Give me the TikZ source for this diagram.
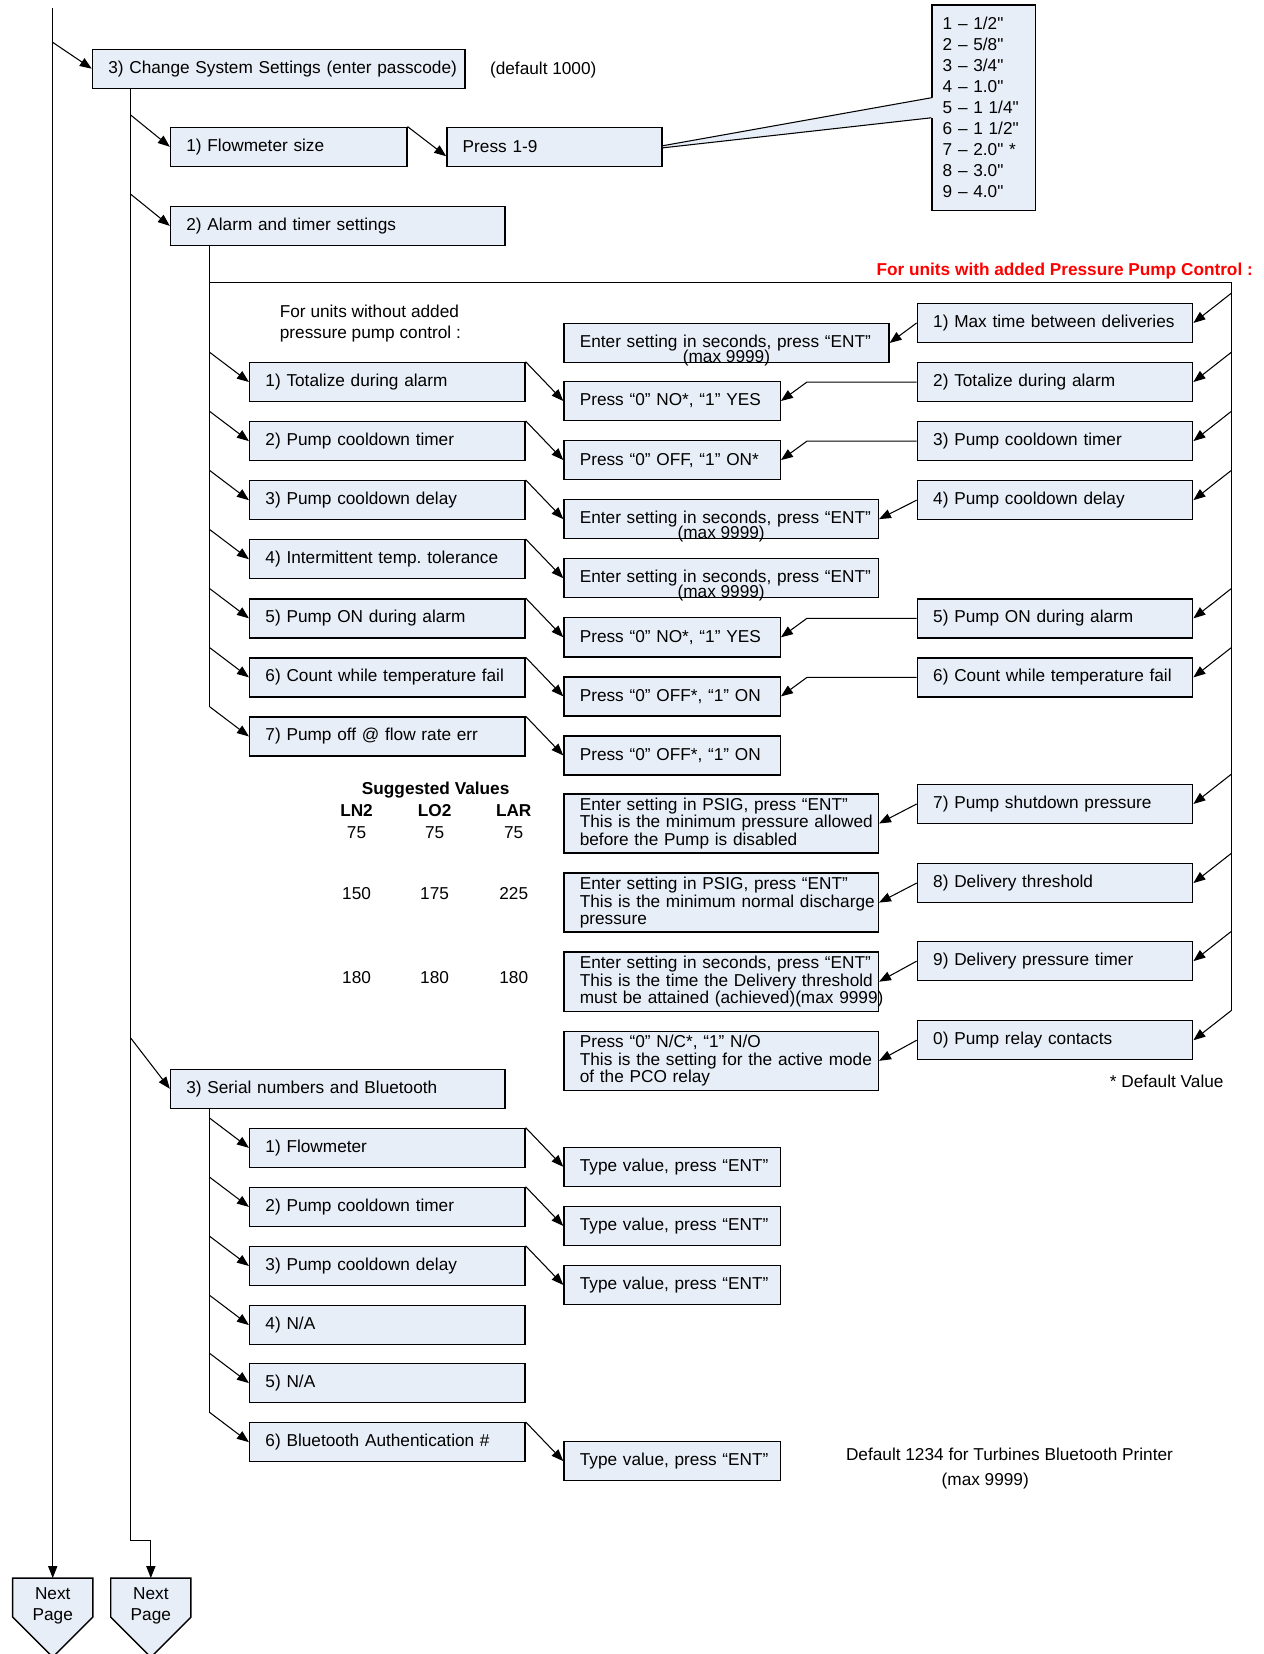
\documentclass[tikz,border=0pt]{standalone}
\usepackage{fontspec}
\setmainfont{Liberation Sans}
\newfontfamily\inchfont{Liberation Sans}
\usepackage{tikz}
\usetikzlibrary{arrows.meta,calc}
\definecolor{boxfill}{HTML}{E8EEF7}
\definecolor{warnred}{HTML}{FF0000}
\tikzset{
  box/.style={draw=black, fill=boxfill, line width=0.8pt, anchor=north west,
    minimum height=22.2pt, inner xsep=0pt, inner ysep=0pt,
    /utils/exec={\pgfmathsetlengthmacro\boxwd{#1*0.6pt}},
    text width=\boxwd, align=left, execute at begin node={\leftskip=9pt}},
  tall/.style={minimum height=33.6pt, font=\fontsize{9.8}{9.9}\selectfont},
  sizelist/.style={minimum height=117pt, execute at begin node={\leftskip=6pt},
    font=\inchfont\fontsize{9.8}{11.94}\selectfont},
  maxnote/.style={anchor=center, inner sep=0pt, yshift=3pt},
  note/.style={inner sep=0pt},
  hdr/.style={note, font=\fontsize{9.8}{12}\selectfont\bfseries},
  link/.style={line width=0.6pt},
  arr/.style={link, -{Triangle[length=6.8pt,width=5.2pt]}},
  npage/.style={draw=black, fill=boxfill, line width=0.8pt},
  every node/.style={font=\fontsize{9.8}{12}\selectfont}
}

\begin{document}
\begin{tikzpicture}[x=0.6pt, y=-0.6pt]
  \useasboundingbox (0,0) rectangle (1198,1568);

  % trunk points
  \coordinate (topL) at (50,8);
  \coordinate (trA) at (124,83);
  \coordinate (trB) at (199,232);
  \coordinate (trC) at (1167,268);
  \coordinate (trD) at (199,1050);
  \coordinate (np1top) at (50,1496);
  \coordinate (np2top) at (143,1496);

  % change system settings
  \node[box=353] (b3) at (87,46) {3) Change System Settings (enter passcode)};
  \node[note] (dflt) at (515,66) {(default 1000)};
  \node[box=224] (fm) at (161,120) {1) Flowmeter size};
  \node[box=204] (press) at (423,120) {Press 1-9};
  \node[box=98, sizelist] (sizes) at (883,4) {1 – 1/2"\\2 – 5/8"\\3 – 3/4"\\4 – 1.0"\\5 – 1 1/4"\\6 – 1 1/2"\\7 – 2.0" *\\8 – 3.0"\\9 – 4.0"};
  \node[box=317] (a2) at (161,195) {2) Alarm and timer settings};

  % callout
  \fill[boxfill] ($(press.east)+(0,-1)$) -- ($(sizes.west)+(1.5,-9.5)$) -- ($(sizes.west)+(1.5,9.5)$) -- ($(press.east)+(0,1)$) -- cycle;
  \draw[link] ($(press.east)+(0,-1)$) -- ($(sizes.west)+(0,-9.5)$);
  \draw[link] ($(press.east)+(0,1)$) -- ($(sizes.west)+(0,9.5)$);

  % without / with pressure pump control
  \node[hdr, text=warnred, anchor=east] (withpcp) at (1188,257) {For units with added Pressure Pump Control :};
  \node[note, align=left, anchor=west] (nopcp) at (265,307) {For units without added\\pressure pump control :};

  \node[box=261] (t1) at (236,343) {1) Totalize during alarm};
  \node[box=261] (t2) at (236,399) {2) Pump cooldown timer};
  \node[box=261] (t3) at (236,455) {3) Pump cooldown delay};
  \node[box=261] (t4) at (236,511) {4) Intermittent temp.\ tolerance};
  \node[box=261] (t5) at (236,567) {5) Pump ON during alarm};
  \node[box=261] (t6) at (236,623) {6) Count while temperature fail};
  \node[box=261] (t7) at (236,679) {7) Pump off @ flow rate err};

  \node[box=308, label={[maxnote]south:(max 9999)}] (m0) at (534,306) {Enter setting in seconds, press “ENT”};
  \node[box=205] (m1) at (534,361) {Press “0” NO*, “1” YES};
  \node[box=205] (m2) at (534,417) {Press “0” OFF, “1” ON*};
  \node[box=298, label={[maxnote]south:(max 9999)}] (m3) at (534,473) {Enter setting in seconds, press “ENT”};
  \node[box=298, label={[maxnote]south:(max 9999)}] (m4) at (534,529) {Enter setting in seconds, press “ENT”};
  \node[box=205] (m5) at (534,585) {Press “0” NO*, “1” YES};
  \node[box=205] (m6) at (534,641) {Press “0” OFF*, “1” ON};
  \node[box=205] (m7) at (534,697) {Press “0” OFF*, “1” ON};

  \node[box=261] (r1) at (869,287) {1) Max time between deliveries};
  \node[box=261] (r2) at (869,343) {2) Totalize during alarm};
  \node[box=261] (r3) at (869,399) {3) Pump cooldown timer};
  \node[box=261] (r4) at (869,455) {4) Pump cooldown delay};
  \node[box=261] (r5) at (869,567) {5) Pump ON during alarm};
  \node[box=261] (r6) at (869,623) {6) Count while temperature fail};
  \node[box=261] (r7) at (869,743) {7) Pump shutdown pressure};
  \node[box=261] (r8) at (869,818) {8) Delivery threshold};
  \node[box=261] (r9) at (869,892) {9) Delivery pressure timer};
  \node[box=261] (r0) at (869,967) {0) Pump relay contacts};

  \node[box=298, tall] (p7) at (534,752) {\mbox{Enter setting in PSIG, press “ENT”}\\\mbox{This is the minimum pressure allowed}\\\mbox{before the Pump is disabled}};
  \node[box=298, tall] (p8) at (534,827) {\mbox{Enter setting in PSIG, press “ENT”}\\\mbox{This is the minimum normal discharge}\\\mbox{pressure}};
  \node[box=298, tall] (p9) at (534,902) {\mbox{Enter setting in seconds, press “ENT”}\\\mbox{This is the time the Delivery threshold}\\\mbox{must be attained (achieved)(max 9999)}};
  \node[box=298, tall] (p0) at (534,977) {\mbox{Press “0” N/C*, “1” N/O}\\\mbox{This is the setting for the active mode}\\\mbox{of the PCO relay}};

  % suggested values
  \node[hdr] (sugg) at (413,749) {Suggested Values};
  \node[hdr] (hln) at (338,768) {LN2};
  \node[hdr] (hlo) at (412,768) {LO2};
  \node[hdr] (hla) at (487,768) {LAR};
  \node[note] (v71) at (338,789) {75};
  \node[note] (v72) at (412,789) {75};
  \node[note] (v73) at (487,789) {75};
  \node[note] (v81) at (338,847) {150};
  \node[note] (v82) at (412,847) {175};
  \node[note] (v83) at (487,847) {225};
  \node[note] (v91) at (338,927) {180};
  \node[note] (v92) at (412,927) {180};
  \node[note] (v93) at (487,927) {180};
  \node[note] (dflv) at (1106,1025) {* Default Value};

  % serial numbers
  \node[box=317] (s3) at (161,1013) {3) Serial numbers and Bluetooth};
  \node[box=261] (u1) at (236,1069) {1) Flowmeter};
  \node[box=261] (u2) at (236,1125) {2) Pump cooldown timer};
  \node[box=261] (u3) at (236,1181) {3) Pump cooldown delay};
  \node[box=261] (u4) at (236,1237) {4) N/A};
  \node[box=261] (u5) at (236,1292) {5) N/A};
  \node[box=261] (u6) at (236,1348) {6) Bluetooth Authentication \#};
  \node[box=205] (tv1) at (534,1087) {Type value, press “ENT”};
  \node[box=205] (tv2) at (534,1143) {Type value, press “ENT”};
  \node[box=205] (tv3) at (534,1199) {Type value, press “ENT”};
  \node[box=205] (tv6) at (534,1366) {Type value, press “ENT”};
  \node[note] (prn1) at (957,1379) {Default 1234 for Turbines Bluetooth Printer};
  \node[note] (prn2) at (934,1404) {(max 9999)};

  % next page
  \draw[npage] (np1top) ++(-38,0) -- ++(76,0) -- ++(0,37) -- ++(-38,38) -- ++(-38,-38) -- cycle;
  \draw[npage] (np2top) ++(-38,0) -- ++(76,0) -- ++(0,37) -- ++(-38,38) -- ++(-38,-38) -- cycle;
  \node[note, align=center] (np1) at (50,1522) {Next\\Page};
  \node[note, align=center] (np2) at (143,1522) {Next\\Page};

  % trunks
  \draw[arr] (topL) -- (np1top);
  \draw[arr] (trA) |- ($(np2top)+(0,-36)$) -- (np2top);
  \draw[link] (trB) -- ($(t7.west -| trB)+(0,-28)$);
  \draw[link] (trC -| trB) -- (trC) -- ($(r0.east -| trC)+(0,-28)$);
  \draw[link] (trD) -- ($(u6.west -| trD)+(0,-28)$);

  \draw[arr] ($(b3.west -| topL)+(0,-25)$) -- (b3.west);
  \draw[arr] ($(fm.west -| trA)+(0,-30)$) -- (fm.west);
  \draw[arr] ($(a2.west -| trA)+(0,-30)$) -- (a2.west);
  \draw[arr] ($(s3.west -| trA)+(0,-48)$) -- (s3.west);
  \draw[arr] (fm.north east) -- ($(press.west)+(0,9)$);

  % left column
  \draw[arr] ($(t1.west -| trB)+(0,-28)$) -- (t1.west);
  \draw[arr] ($(t2.west -| trB)+(0,-28)$) -- (t2.west);
  \draw[arr] ($(t3.west -| trB)+(0,-28)$) -- (t3.west);
  \draw[arr] ($(t4.west -| trB)+(0,-28)$) -- (t4.west);
  \draw[arr] ($(t5.west -| trB)+(0,-28)$) -- (t5.west);
  \draw[arr] ($(t6.west -| trB)+(0,-28)$) -- (t6.west);
  \draw[arr] ($(t7.west -| trB)+(0,-28)$) -- (t7.west);
  \draw[arr] (t1.north east) -- (m1.west);
  \draw[arr] (t2.north east) -- (m2.west);
  \draw[arr] (t3.north east) -- (m3.west);
  \draw[arr] (t4.north east) -- (m4.west);
  \draw[arr] (t5.north east) -- (m5.west);
  \draw[arr] (t6.north east) -- (m6.west);
  \draw[arr] (t7.north east) -- (m7.west);

  % right column
  \draw[arr] ($(r1.east -| trC)+(0,-28)$) -- (r1.east);
  \draw[arr] ($(r2.east -| trC)+(0,-28)$) -- (r2.east);
  \draw[arr] ($(r3.east -| trC)+(0,-28)$) -- (r3.east);
  \draw[arr] ($(r4.east -| trC)+(0,-28)$) -- (r4.east);
  \draw[arr] ($(r5.east -| trC)+(0,-28)$) -- (r5.east);
  \draw[arr] ($(r6.east -| trC)+(0,-28)$) -- (r6.east);
  \draw[arr] ($(r7.east -| trC)+(0,-28)$) -- (r7.east);
  \draw[arr] ($(r8.east -| trC)+(0,-28)$) -- (r8.east);
  \draw[arr] ($(r9.east -| trC)+(0,-28)$) -- (r9.east);
  \draw[arr] ($(r0.east -| trC)+(0,-28)$) -- (r0.east);
  \draw[arr] (r1.west) -- (m0.east);
  \draw[arr] (r2.west) -- ($(r2.west)+(-104,0)$) -- (m1.east);
  \draw[arr] (r3.west) -- ($(r3.west)+(-104,0)$) -- (m2.east);
  \draw[arr] (r4.west) -- (m3.east);
  \draw[arr] (r5.west) -- ($(r5.west)+(-104,0)$) -- (m5.east);
  \draw[arr] (r6.west) -- ($(r6.west)+(-104,0)$) -- (m6.east);
  \draw[arr] (r7.west) -- (p7.east);
  \draw[arr] (r8.west) -- (p8.east);
  \draw[arr] (r9.west) -- (p9.east);
  \draw[arr] (r0.west) -- (p0.east);

  % serial numbers column
  \draw[arr] ($(u1.west -| trD)+(0,-28)$) -- (u1.west);
  \draw[arr] ($(u2.west -| trD)+(0,-28)$) -- (u2.west);
  \draw[arr] ($(u3.west -| trD)+(0,-28)$) -- (u3.west);
  \draw[arr] ($(u4.west -| trD)+(0,-28)$) -- (u4.west);
  \draw[arr] ($(u5.west -| trD)+(0,-28)$) -- (u5.west);
  \draw[arr] ($(u6.west -| trD)+(0,-28)$) -- (u6.west);
  \draw[arr] (u1.north east) -- (tv1.west);
  \draw[arr] (u2.north east) -- (tv2.west);
  \draw[arr] (u3.north east) -- (tv3.west);
  \draw[arr] (u6.north east) -- (tv6.west);
\end{tikzpicture}
\end{document}
